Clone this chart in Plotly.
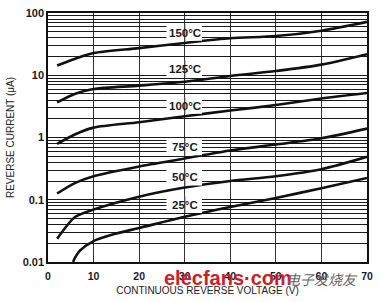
import plotly.graph_objects as go
import math

# Continuous reverse voltage (V)
v_150 = [2, 6, 10, 20, 30, 40, 50, 60, 70]
i_150 = [14.3, 18.4, 22.7, 27.3, 33.0, 39.2, 42.6, 52.0, 72.0]

v_125 = [2, 6, 10, 20, 30, 40, 50, 60, 70]
i_125 = [3.66, 5.06, 6.0, 6.81, 7.86, 9.75, 11.7, 14.8, 21.8]

v_100 = [2, 6, 10, 20, 30, 40, 50, 60, 70]
i_100 = [0.79, 1.13, 1.44, 1.76, 2.19, 2.71, 3.32, 4.22, 5.18]

v_75 = [2, 6, 10, 20, 30, 40, 50, 60, 70]
i_75 = [0.126, 0.187, 0.239, 0.342, 0.46, 0.62, 0.77, 0.97, 1.39]

v_50 = [2, 4, 6, 10, 20, 30, 40, 50, 60, 70]
i_50 = [0.0236, 0.0372, 0.0533, 0.0695, 0.112, 0.157, 0.2, 0.239, 0.31, 0.49]

v_25 = [5.5, 6, 7, 10, 15, 20, 30, 40, 50, 60, 70]
i_25 = [0.01, 0.012, 0.0152, 0.0217, 0.0287, 0.0352, 0.0533, 0.0764, 0.107, 0.153, 0.224]

series = [
    ("150°C", v_150, i_150),
    ("125°C", v_125, i_125),
    ("100°C", v_100, i_100),
    ("75°C", v_75, i_75),
    ("50°C", v_50, i_50),
    ("25°C", v_25, i_25),
]

# label positions (center, at V = 30)
label_names = ["150°C", "125°C", "100°C", "75°C", "50°C", "25°C"]
label_x = [30, 30, 30, 30, 30, 30]
label_y = [48.5, 12.7, 3.25, 0.70, 0.23, 0.083]

x_ticks = [0, 10, 20, 30, 40, 50, 60, 70]
decades = [0.01, 0.1, 1, 10, 100]
decade_labels = ["0.01", "0.1", "1", "10", "100"]

yvals, ytext = [], []
for d, lab in zip(decades, decade_labels):
    yvals.append(d)
    ytext.append(lab)
    if d < 100:
        for m in range(2, 10):
            yvals.append(d * m)
            ytext.append("")

fig = go.Figure()
for name, v, i in series:
    fig.add_trace(go.Scatter(x=v, y=i, mode="lines", name=name,
                             line=dict(color="#111111", width=2.6, shape="spline", smoothing=0.8),
                             showlegend=False))

shapes = []
annotations = []
for name, lx, ly in zip(label_names, label_x, label_y):
    lp = (math.log10(ly) + 2) / 4
    shapes.append(dict(type="rect", xref="x", yref="paper", x0=lx - 4.0, x1=lx + 3.8,
                       y0=lp - 0.033, y1=lp + 0.033, fillcolor="white",
                       line=dict(width=0), layer="above"))
    shapes.append(dict(type="line", xref="x", yref="paper", x0=lx, x1=lx,
                       y0=lp - 0.034, y1=lp + 0.034,
                       line=dict(color="#333333", width=1.2), layer="above"))
    annotations.append(dict(x=lx, y=math.log10(ly), xref="x", yref="y", text=name,
                            showarrow=False, font=dict(family="Liberation Sans", size=11.5,
                                                       color="#1a1a1a", weight="bold"),
                            xanchor="center", yanchor="middle"))

# watermark
annotations.append(dict(x=(230 - 48) / 323, y=(263 - 279) / 256, xref="paper", yref="paper",
                        text="elecfans·com", showarrow=False,
                        font=dict(family="Liberation Sans", size=20, color="#cc1f2a", weight="bold"),
                        xanchor="center", yanchor="middle"))
annotations.append(dict(x=(325 - 48) / 323, y=(263 - 280) / 256, xref="paper", yref="paper",
                        text="<i>电子发烧友</i>", showarrow=False,
                        font=dict(family="Noto Sans CJK SC", size=14, color="#666666"),
                        xanchor="center", yanchor="middle"))

fig.update_layout(
    width=380, height=302,
    margin=dict(l=48, r=9, t=7, b=39),
    paper_bgcolor="white", plot_bgcolor="white",
    shapes=shapes, annotations=annotations,
    font=dict(family="Liberation Sans", color="#1a1a1a"),
    xaxis=dict(range=[0, 70], tickvals=x_ticks, showgrid=True, gridcolor="#333333", gridwidth=1.2,
               showline=True, mirror=True, linecolor="#111111", linewidth=1.5, zeroline=False,
               ticks="", ticklabelstandoff=4, tickfont=dict(size=10.5, weight="bold", color="#1a1a1a"),
               title=dict(text="CONTINUOUS REVERSE VOLTAGE (V)", standoff=6,
                          font=dict(size=10, color="#222222"))),
    yaxis=dict(type="log", range=[-2, 2], tickvals=yvals, ticktext=ytext, showgrid=True,
               gridcolor="#1a1a1a", gridwidth=1.3,
               showline=True, mirror=True, linecolor="#111111", linewidth=1.5, zeroline=False,
               ticks="", tickfont=dict(size=11, weight="bold", color="#1a1a1a"),
               title=dict(text="REVERSE CURRENT (μA)", standoff=6,
                          font=dict(size=10, color="#222222"))),
)

fig.write_html("out.html")
